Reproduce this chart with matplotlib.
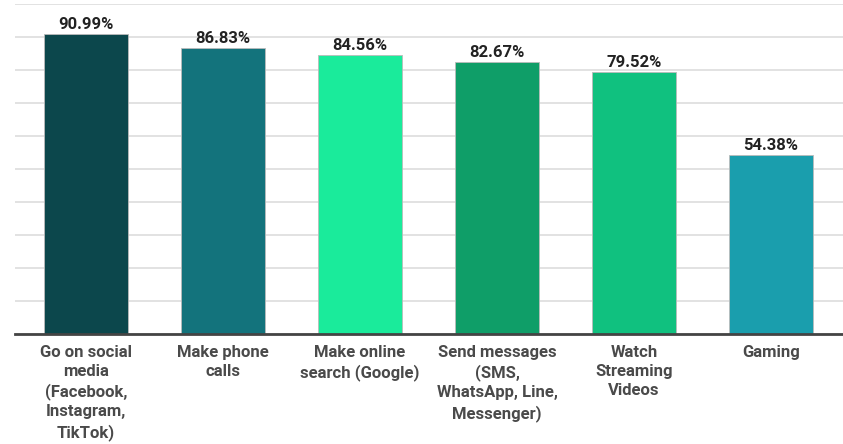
import matplotlib.pyplot as plt

categories = [
    "Go on social\nmedia\n(Facebook,\nInstagram,\nTikTok)",
    "Make phone\ncalls",
    "Make online\nsearch (Google)",
    "Send messages\n(SMS,\nWhatsApp, Line,\nMessenger)",
    "Watch\nStreaming\nVideos",
    "Gaming",
]
values = [90.99, 86.83, 84.56, 82.67, 79.52, 54.38]
colors = ["#0c474c", "#13737c", "#1aeb9b", "#0f9e68", "#10c17f", "#1a9ead"]

plt.rcParams['font.family'] = ['Roboto', 'DejaVu Sans']

fig = plt.figure(figsize=(8.43, 4.44), dpi=100)
ax = fig.add_axes([0.018, 0.248, 0.982, 0.742])

x = range(len(values))
bars = ax.bar(x, values, width=0.61, color=colors, edgecolor="#bbbbbb",
              linewidth=0.6, zorder=3)

# percentage above each bar
for b, v in zip(bars, values):
    ax.text(b.get_x() + b.get_width() / 2, v + 0.6, f"{v:.2f}%",
            ha="center", va="bottom", fontsize=12, fontweight="bold",
            color="#222222")

ax.set_xlim(-0.518, 5.526)
ax.set_ylim(0, 100)
ax.set_yticks(range(0, 101, 10))
ax.set_yticklabels([])
ax.tick_params(axis="y", length=0)
ax.yaxis.grid(True, color="#dddddd", linewidth=1.2, zorder=0)

ax.set_xticks(list(x))
ax.set_xticklabels(categories, fontsize=12, fontweight="bold",
                   color="#4a4a4a", linespacing=1.33)
ax.tick_params(axis="x", length=0, pad=8)

for s in ["top", "right", "left"]:
    ax.spines[s].set_visible(False)
ax.spines["bottom"].set_color("#444444")
ax.spines["bottom"].set_linewidth(2)
ax.spines["bottom"].set_zorder(4)

fig.savefig("out.png", dpi=100)
